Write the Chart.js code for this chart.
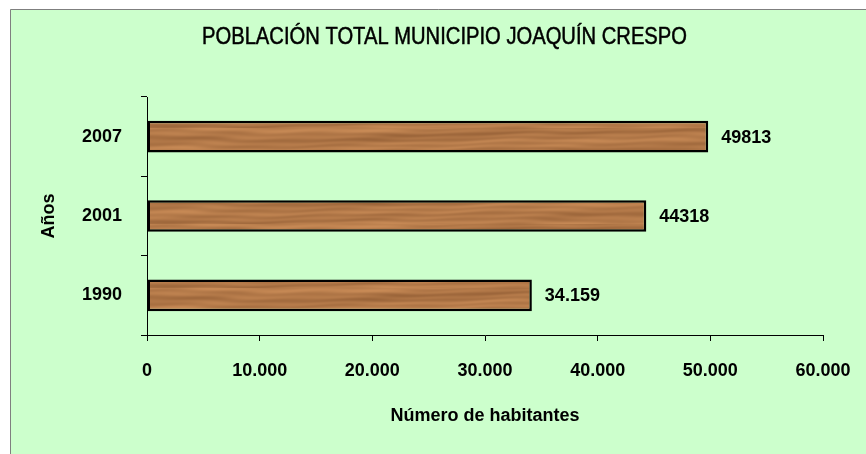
<!DOCTYPE html>
<html>
<head>
<meta charset="utf-8">
<script src="https://cdn.jsdelivr.net/npm/chart.js@4.4.1/dist/chart.umd.min.js"></script>
<style>
  html, body { margin: 0; padding: 0; background: #ffffff; }
  #wrap { width: 866px; height: 454px; }
</style>
</head>
<body>
<div id="wrap"><canvas id="c" width="866" height="454"></canvas></div>
<script>
// ---- data ----
const chartTitle = 'POBLACIÓN TOTAL MUNICIPIO JOAQUÍN CRESPO';
const categories = ['2007', '2001', '1990'];
const population = [49813, 44318, 34159];
const valueLabels = ['49813', '44318', '34.159'];
const xTickValues = [0, 10000, 20000, 30000, 40000, 50000, 60000];
const xTickLabels = ['0', '10.000', '20.000', '30.000', '40.000', '50.000', '60.000'];
const xAxisTitle = 'Número de habitantes';
const yAxisTitle = 'Años';

// ---- wood texture (deterministic) ----
function makeWood() {
  const w = 866, h = 32;
  const cv = document.createElement('canvas');
  cv.width = w; cv.height = h;
  const cx = cv.getContext('2d');
  const img = cx.createImageData(w, h);
  for (let y = 0; y < h; y++) {
    for (let x = 0; x < w; x++) {
      const warp = 1.8 * Math.sin(x * 0.011 + y * 0.09) + 0.9 * Math.sin(x * 0.037 + 1.3) + 0.5 * Math.sin(x * 0.083 + y * 0.3);
      const g1 = Math.sin((y + warp) * 1.05);
      const g2 = Math.sin((y + warp * 0.7) * 0.33 + x * 0.006);
      const g3 = Math.sin(x * 0.052 + y * 0.41) * Math.sin(x * 0.019 + 0.7);
      const g4 = Math.sin(x * 0.0071 + 2.1) * Math.sin(y * 0.21 + x * 0.013);
      let v = 0.3 * g1 + 0.35 * g2 + 0.25 * g3 + 0.3 * g4;
      const r = 178 + 24 * v;
      const g = 120 + 20 * v;
      const b = 72 + 15 * v;
      const i = (y * w + x) * 4;
      img.data[i] = r; img.data[i + 1] = g; img.data[i + 2] = b; img.data[i + 3] = 255;
    }
  }
  cx.putImageData(img, 0, 0);
  return cv;
}
const woodCanvas = makeWood();
const ctx0 = document.getElementById('c').getContext('2d');
const woodPattern = ctx0.createPattern(woodCanvas, 'repeat');

// ---- plugins ----
const frame = {
  id: 'frame',
  beforeDraw(chart) {
    const c = chart.ctx;
    c.save();
    c.fillStyle = '#ffffff';
    c.fillRect(0, 0, chart.width, chart.height);
    c.fillStyle = '#ccffcc';
    c.fillRect(10, 9, chart.width - 10, chart.height - 9);
    c.strokeStyle = '#7f7f7f';
    c.lineWidth = 1;
    c.beginPath();
    c.moveTo(10.5, chart.height);
    c.lineTo(10.5, 9.5);
    c.lineTo(chart.width, 9.5);
    c.stroke();
    c.restore();
  },
  afterDraw(chart) {
    const c = chart.ctx;
    c.save();
    c.fillStyle = '#000000';
    c.font = '24px "Liberation Sans Narrow", "Liberation Sans", Arial, sans-serif';
    c.textAlign = 'center';
    c.textBaseline = 'middle';
    const target = 485;
    const mw = c.measureText(chartTitle).width;
    const sx = target / mw;
    c.translate(444.5, 37);
    c.scale(sx, 1);
    c.fillText(chartTitle, 0, 0);
    c.lineWidth = 0.5;
    c.strokeStyle = '#000000';
    c.strokeText(chartTitle, 0, 0);
    c.restore();
  }
};

const valueLabelsPlugin = {
  id: 'valueLabels',
  afterDatasetsDraw(chart) {
    const c = chart.ctx;
    const meta = chart.getDatasetMeta(0);
    c.save();
    c.fillStyle = '#000000';
    c.font = 'bold 18px "Liberation Sans", Arial, sans-serif';
    c.textAlign = 'left';
    c.textBaseline = 'middle';
    meta.data.forEach((el, i) => {
      c.fillText(valueLabels[i], el.x + 13, el.y + 1);
    });
    c.restore();
  }
};

const font18 = { family: '"Liberation Sans", Arial, sans-serif', size: 18, weight: 'bold' };

new Chart(document.getElementById('c'), {
  type: 'bar',
  data: {
    labels: categories,
    datasets: [{
      data: population,
      backgroundColor: woodPattern,
      borderColor: '#000000',
      borderWidth: 2.5,
      borderSkipped: false,
      barPercentage: 0.4,
      categoryPercentage: 1.0
    }]
  },
  options: {
    indexAxis: 'y',
    responsive: false,
    animation: false,
    devicePixelRatio: 1,
    layout: { padding: { left: 0, top: 97, right: 43, bottom: 0 } },
    plugins: {
      legend: { display: false },
      title: { display: false },
      tooltip: { enabled: false }
    },
    scales: {
      x: {
        type: 'linear',
        min: 0,
        max: 60000,
        afterBuildTicks(scale) { scale.ticks = xTickValues.map(v => ({ value: v })); },
        afterFit(scale) { scale.height = 119; scale.paddingLeft = 0; scale.paddingRight = 0; },
        ticks: {
          color: '#000000',
          font: font18,
          padding: 19,
          maxRotation: 0,
          callback(v) { const k = xTickValues.indexOf(v); return k >= 0 ? xTickLabels[k] : ''; }
        },
        grid: { drawOnChartArea: false, drawTicks: true, tickLength: 6, color: '#000000' },
        border: { display: true, color: '#000000', width: 1 },
        title: {
          display: true,
          text: xAxisTitle,
          color: '#000000',
          font: font18,
          padding: { top: 0, bottom: 27 }
        }
      },
      y: {
        type: 'category',
        offset: true,
        afterFit(scale) { scale.width = 147; scale.paddingTop = 0; scale.paddingBottom = 0; },
        ticks: { color: '#000000', font: font18, padding: 19 },
        grid: { offset: true, drawOnChartArea: false, drawTicks: true, tickLength: 6, color: '#000000' },
        border: { display: true, color: '#000000', width: 1 },
        title: {
          display: true,
          text: yAxisTitle,
          color: '#000000',
          font: font18,
          padding: { top: 38, bottom: 0 }
        }
      }
    }
  },
  plugins: [frame, valueLabelsPlugin]
});
</script>
</body>
</html>
